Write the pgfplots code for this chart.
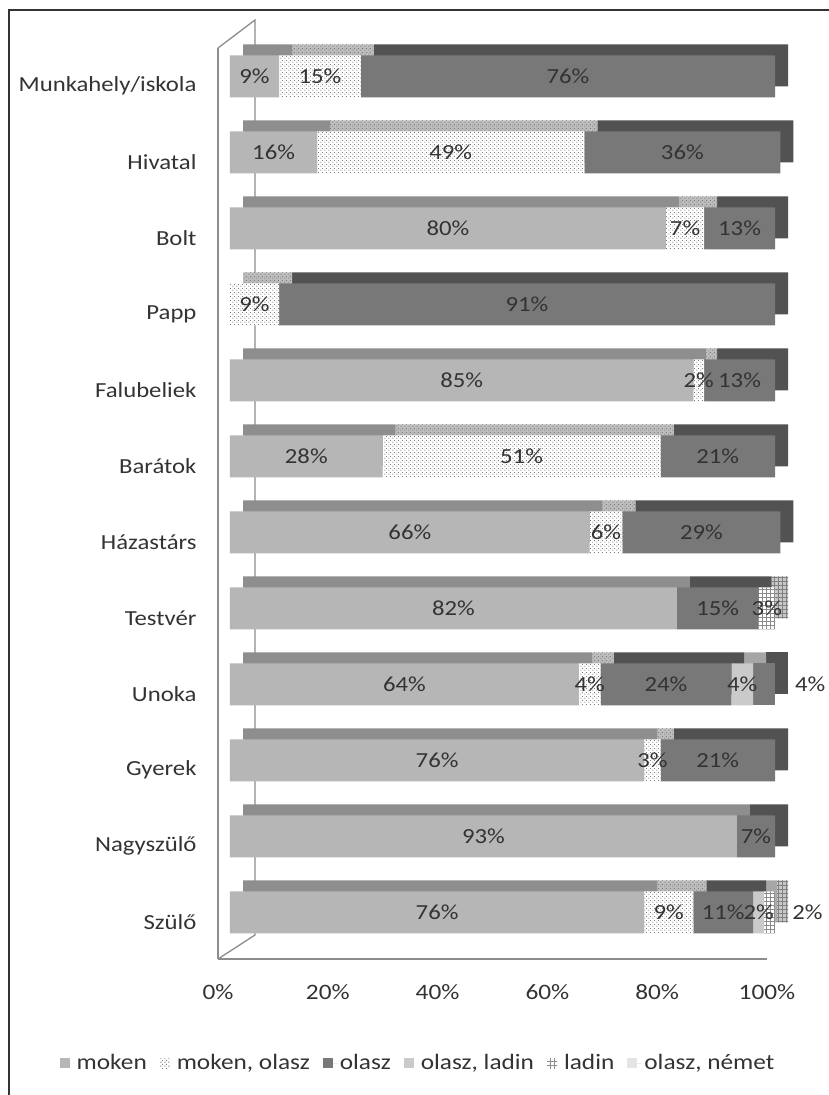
\documentclass[border=0pt]{standalone}
\usepackage{pgfplots}
\pgfplotsset{compat=1.18}
\usepackage{pgfplotstable}
\usepackage{fontspec}
\setmainfont{Carlito}[FakeStretch=1.15]
\usetikzlibrary{patterns}

\definecolor{mokenF}{HTML}{B6B6B6}
\definecolor{mokenT}{HTML}{8E8E8E}
\definecolor{olaszF}{HTML}{787878}
\definecolor{olaszT}{HTML}{525252}
\definecolor{olladF}{HTML}{CACACA}
\definecolor{olladT}{HTML}{A6A6A6}
\definecolor{dotC}{HTML}{707070}
\definecolor{dotT}{HTML}{BDBDBD}
\definecolor{gridT}{HTML}{C8C8C8}
\definecolor{wallC}{HTML}{8C8C8C}
\definecolor{nemetL}{HTML}{E4E4E4}
\definecolor{txt}{HTML}{333333}

\pgfdeclarepatternformonly{mydots}{\pgfpointorigin}{\pgfpoint{4pt}{4pt}}{\pgfpoint{4pt}{4pt}}{%
  \pgfpathcircle{\pgfpoint{1pt}{1pt}}{0.65pt}%
  \pgfpathcircle{\pgfpoint{3pt}{3pt}}{0.65pt}%
  \pgfusepath{fill}}
\pgfdeclarepatternformonly{mygrid}{\pgfpoint{-0.5pt}{-0.5pt}}{\pgfpoint{4.5pt}{4.5pt}}{\pgfpoint{4pt}{4pt}}{%
  \pgfsetlinewidth{0.7pt}%
  \pgfpathmoveto{\pgfpoint{0pt}{2pt}}\pgfpathlineto{\pgfpoint{4pt}{2pt}}%
  \pgfpathmoveto{\pgfpoint{2pt}{0pt}}\pgfpathlineto{\pgfpoint{2pt}{4pt}}%
  \pgfusepath{stroke}}

\newcommand{\lblfont}{\fontsize{21.5}{25}\selectfont}
\newcommand{\catfont}{\fontsize{21.5}{25}\selectfont}
\newcommand{\tickfont}{\fontsize{22}{26}\selectfont}

\pgfplotstableread{
y moken mokenolasz olasz olaszladin ladin olasznemet ldx
0 76 9 11 2 2 0 38
1 93 0 7 0 0 0 0
2 76 3 21 0 0 0 0
3 64 4 24 4 0 4 0
4 82 0 15 0 3 0 0
5 66 6 29 0 0 0 0
6 28 51 21 0 0 0 0
7 85 2 13 0 0 0 0
8 0 9 91 0 0 0 0
9 80 7 13 0 0 0 0
10 16 49 36 0 0 0 0
11 9 15 76 0 0 0 0
}\data

\pgfplotsset{
  /pgf/number format/assume math mode=true,
  lbl/.style={
    visualization depends on={\thisrow{#1} \as \rx},
    nodes near coords={\ifdim\rx pt>0.5pt \pgfmathprintnumber{\rx}\%\fi},
    every node near coord/.style={anchor=center, text=txt, font=\lblfont},
  },
  barbase/.style={
    xbar stacked, bar width=42pt,
    scale only axis, width=545pt, height=912pt,
    xmin=0, xmax=100, ymin=-0.5, ymax=11.5,
    enlargelimits=false, clip=false,
  },
}

\begin{document}
\begin{tikzpicture}[font=\lblfont]
\path[use as bounding box] (0pt,0pt) rectangle (829pt,1095pt);

% floor / front wall axis with tick labels
\begin{axis}[
  at={(218pt,136pt)}, anchor=south west,
  scale only axis, width=549pt, height=911pt,
  xmin=0, xmax=100, ymin=0, ymax=1,
  axis x line=bottom, axis y line=left,
  axis line style={-, wallC, line width=1.3pt},
  ytick=\empty, xtick={0,20,...,100},
  major tick length=0pt,
  xticklabel={\pgfmathprintnumber{\tick}\%},
  xticklabel style={anchor=center, yshift=-33pt, text=txt, font=\tickfont},
]
\end{axis}
\draw[wallC, line width=1.3pt] (218pt,1047pt) -- (255pt,1075pt) -- (255pt,160pt) -- (218pt,136pt);

% back copy (top and side faces)
\begin{axis}[barbase, at={(243pt,155.5pt)}, anchor=south west, hide axis]
\addplot[fill=mokenT, draw=none] table[x=moken, y=y] {\data};
\addplot[fill=dotT, draw=none, postaction={pattern=mydots, pattern color=black!55}] table[x=mokenolasz, y=y] {\data};
\addplot[fill=olaszT, draw=none] table[x=olasz, y=y] {\data};
\addplot[fill=olladT, draw=none] table[x=olaszladin, y=y] {\data};
\addplot[fill=gridT, draw=none, postaction={pattern=mygrid, pattern color=black!50}] table[x=ladin, y=y] {\data};
\addplot[fill=olaszT, draw=none] table[x=olasznemet, y=y] {\data};
\end{axis}

% front faces
\begin{axis}[barbase, at={(230pt,144.5pt)}, anchor=south west,
  axis line style={draw=none}, tick style={draw=none},
  xtick=\empty,
  ytick={0,...,11},
  yticklabels={Szülő,Nagyszülő,Gyerek,Unoka,Testvér,Házastárs,Barátok,Falubeliek,Papp,Bolt,Hivatal,Munkahely/iskola},
  yticklabel style={anchor=east, xshift=-30pt, yshift=-9.5pt, text=txt, font=\catfont},
  legend columns=6,
  legend style={at={(0.345,-0.1234)}, anchor=center, draw=none, fill=none,
    font=\tickfont, text=txt,
    /tikz/every even column/.append style={column sep=11pt}},
  legend cell align=left,
]
\addplot[fill=mokenF, draw=none, lbl=moken,
  legend image code/.code={\path (0pt,0pt) -- (15pt,0pt);\path[fill=mokenF] (0pt,-5pt) rectangle (10pt,5pt);}]
  table[x=moken, y=y] {\data};
\addlegendentry{moken}
\addplot[fill=white, draw=none, postaction={pattern=mydots, pattern color=dotC}, lbl=mokenolasz,
  legend image code/.code={\path (0pt,0pt) -- (15pt,0pt);\path[pattern=mydots, pattern color=black!30] (0pt,-5pt) rectangle (10pt,5pt);}]
  table[x=mokenolasz, y=y] {\data};
\addlegendentry{moken, olasz}
\addplot[fill=olaszF, draw=none, lbl=olasz,
  legend image code/.code={\path (0pt,0pt) -- (15pt,0pt);\path[fill=olaszF] (0pt,-5pt) rectangle (10pt,5pt);}]
  table[x=olasz, y=y] {\data};
\addlegendentry{olasz}
\addplot[fill=olladF, draw=none, lbl=olaszladin,
  legend image code/.code={\path (0pt,0pt) -- (15pt,0pt);\path[fill=olladF] (0pt,-5pt) rectangle (10pt,5pt);}]
  table[x=olaszladin, y=y] {\data};
\addlegendentry{olasz, ladin}
\addplot[fill=white, draw=none, postaction={pattern=mygrid, pattern color=black!45},
  visualization depends on={\thisrow{ladin} \as \rx},
  visualization depends on={\thisrow{ldx} \as \dx},
  nodes near coords={\ifdim\rx pt>0.5pt \pgfmathprintnumber{\rx}\%\fi},
  every node near coord/.style={anchor=center, xshift={\dx pt}, text=txt, font=\lblfont},
  legend image code/.code={\path (0pt,0pt) -- (15pt,0pt);\path[pattern=mygrid, pattern color=black!45] (0pt,-5pt) rectangle (10pt,5pt);}]
  table[x=ladin, y=y] {\data};
\addlegendentry{ladin}
\addplot[fill=olaszF, draw=none,
  visualization depends on={\thisrow{olasznemet} \as \rx},
  nodes near coords={\ifdim\rx pt>0.5pt \pgfmathprintnumber{\rx}\%\fi},
  every node near coord/.style={anchor=center, xshift=46pt, text=txt, font=\lblfont},
  legend image code/.code={\path (0pt,0pt) -- (15pt,0pt);\path[fill=nemetL] (0pt,-5pt) rectangle (10pt,5pt);}]
  table[x=olasznemet, y=y] {\data};
\addlegendentry{olasz, német}
\end{axis}

\draw[line width=1.5pt, black!80] (9pt,0pt) -- (9pt,1085pt) -- (829pt,1085pt);
\end{tikzpicture}
\end{document}
